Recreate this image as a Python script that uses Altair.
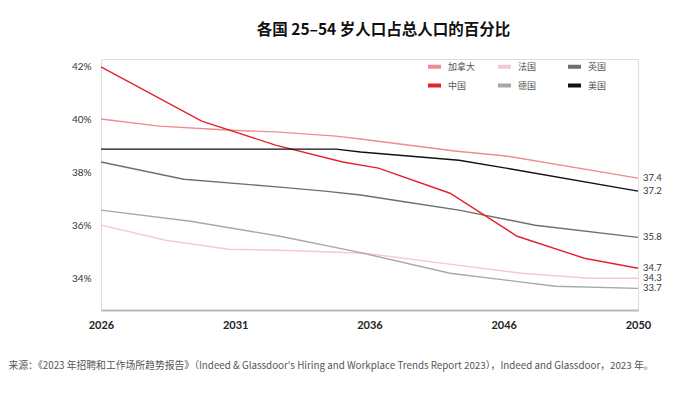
import altair as alt
import pandas as pd

countries = ["加拿大", "中国", "法国", "德国", "英国", "美国"]
colors = ["#ef8b92", "#e3232c", "#f6c8cf", "#a8a8a8", "#6f6f6f", "#111111"]

canada_years = [2026, 2028.6, 2031.6, 2033.8, 2036.5, 2037.6, 2041.8, 2044.1, 2050]
canada_vals = [40.03, 39.76, 39.61, 39.54, 39.38, 39.27, 38.82, 38.63, 37.79]

china_years = [2026, 2030.5, 2033.8, 2036.8, 2038.4, 2041.6, 2044.6, 2047.6, 2050]
china_vals = [42.0, 39.95, 39.04, 38.40, 38.17, 37.22, 35.59, 34.76, 34.38]

us_years = [2026, 2036.5, 2037.6, 2042.0, 2044.1, 2050]
us_vals = [38.89, 38.89, 38.78, 38.47, 38.17, 37.30]

uk_years = [2026, 2029.7, 2034.0, 2036.0, 2037.6, 2039.7, 2042.0, 2045.4, 2050]
uk_vals = [38.40, 37.75, 37.45, 37.30, 37.15, 36.88, 36.58, 36.01, 35.55]

germany_years = [2026, 2030.0, 2034.0, 2037.5, 2041.6, 2046.3, 2050]
germany_vals = [36.58, 36.16, 35.59, 34.99, 34.19, 33.70, 33.62]

france_years = [2026, 2028.9, 2031.7, 2034.0, 2037.8, 2042.0, 2044.8, 2047.8, 2050]
france_vals = [36.01, 35.44, 35.10, 35.06, 34.95, 34.49, 34.19, 34.00, 34.00]

end_labels = {"加拿大": "37.4", "法国": "34.3", "英国": "35.8",
              "中国": "34.7", "德国": "33.7", "美国": "37.2"}

tick_values = [2026, 2032, 2038, 2044, 2050]
tick_labels = ["2026", "2031", "2036", "2046", "2050"]
y_ticks = [34, 36, 38, 40, 42]

title_text = "各国 25–54 岁人口占总人口的百分比"
footer_text = ("来源：《2023 年招聘和工作场所趋势报告》（Indeed & Glassdoor's Hiring and "
               "Workplace Trends Report 2023），Indeed and Glassdoor，2023 年。")

series = {
    "加拿大": (canada_years, canada_vals),
    "法国": (france_years, france_vals),
    "英国": (uk_years, uk_vals),
    "中国": (china_years, china_vals),
    "德国": (germany_years, germany_vals),
    "美国": (us_years, us_vals),
}

rows = []
ends = []
for c, (ys, vs) in series.items():
    for yr, v in zip(ys, vs):
        rows.append({"country": c, "year": yr, "value": v})
    ends.append({"country": c, "year": ys[-1], "value": vs[-1], "label": end_labels[c]})
df = pd.DataFrame(rows)
df_end = pd.DataFrame(ends)

expr_parts = " : ".join([f"datum.value == {tv} ? '{tl}'" for tv, tl in zip(tick_values, tick_labels)])
label_expr = expr_parts + " : datum.label"

x_enc = alt.X("year:Q",
              scale=alt.Scale(domain=[2026, 2050], nice=False, zero=False),
              axis=alt.Axis(values=tick_values, labelExpr=label_expr, labelFlush=False,
                            ticks=False, grid=False, domain=True, domainColor="#b8b8b8",
                            domainWidth=2, labelFontWeight="bold", labelFontSize=11,
                            labelColor="#222222", labelPadding=9, labelFont="Lato",
                            title=footer_text, titleX=-93, titleY=55, titleAlign="left",
                            titleAnchor="start", titleBaseline="middle",
                            titleFontSize=9.8, titleFontWeight="normal",
                            titleColor="#555555", titleFont="Noto Sans CJK SC"))
y_enc = alt.Y("value:Q",
              scale=alt.Scale(domain=[32.8, 42.3], nice=False, zero=False),
              axis=alt.Axis(values=y_ticks, labelExpr="datum.value + '%'", ticks=False,
                            grid=False, domain=False, labelFontSize=10,
                            labelColor="#333333", labelPadding=10, labelFont="Lato",
                            title=None))

lines = alt.Chart(df).mark_line(strokeWidth=1.4).encode(
    x=x_enc,
    y=y_enc,
    color=alt.Color("country:N",
                    scale=alt.Scale(domain=countries, range=colors),
                    sort=countries,
                    legend=alt.Legend(orient="none", legendX=325, legendY=-1, columns=3,
                                      title=None, symbolType="stroke",
                                      symbolStrokeWidth=4, symbolSize=169,
                                      labelFontSize=9, labelColor="#555555",
                                      labelFont="Noto Sans CJK SC", columnPadding=14,
                                      rowPadding=2, gridAlign="all", labelOffset=5)),
)

labels = alt.Chart(df_end).mark_text(align="left", baseline="middle", dx=5,
                                     fontSize=9.5, color="#333333", font="Lato").encode(
    x="year:Q",
    y="value:Q",
    text="label:N",
)

chart = alt.layer(lines, labels).properties(
    width=537,
    height=251,
    padding={"left": 93, "top": 51, "right": 39, "bottom": 70},
    autosize=alt.AutoSizeParams(type="none"),
    title=alt.TitleParams(title_text, fontSize=15.5, fontWeight="bold",
                          font="Noto Sans CJK SC", anchor="middle", dx=14,
                          offset=20, color="#111111"),
).configure_view(stroke=None).configure(background="white")

chart.save("out.html", embed_options={"renderer": "svg", "actions": False})
